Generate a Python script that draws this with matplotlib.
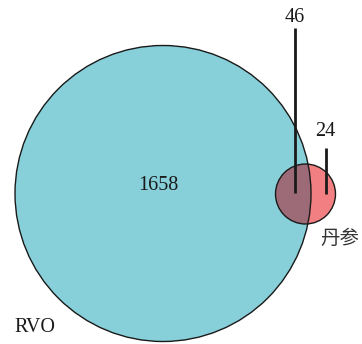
import numpy as np
import matplotlib
matplotlib.use("Agg")
import matplotlib.pyplot as plt
from matplotlib.patches import Circle

# Set names and region counts
set_names = ["RVO", "丹参"]
only_counts = [1658, 24]
shared_count = 46

# Circle areas proportional to set sizes
totals = np.array([only_counts[0] + shared_count, only_counts[1] + shared_count])
scale = 148.0 / np.sqrt(totals[0])
radii = scale * np.sqrt(totals)
centers = [(163.0, 193.5), (305.5, 194.0)]

teal = "#87D0DA"
pink = "#F27F81"
mauve = "#9C6B77"

fig = plt.figure(figsize=(3.62, 3.44), dpi=100)
ax = fig.add_axes([0, 0, 1, 1])
ax.set_xlim(0, 362)
ax.set_ylim(344, 0)
ax.set_aspect("equal")
ax.axis("off")

big = Circle(centers[0], radii[0], facecolor=teal, edgecolor="none", zorder=1)
small = Circle(centers[1], radii[1], facecolor=pink, edgecolor="none", zorder=2)
ax.add_patch(big)
ax.add_patch(small)

# Shared region: the small circle clipped to the large one
overlap = Circle(centers[1], radii[1], facecolor=mauve, edgecolor="none", zorder=3)
ax.add_patch(overlap)
overlap.set_clip_path(big)

for c, r in zip(centers, radii):
    ax.add_patch(Circle(c, r, facecolor="none", edgecolor="#1a1a1a", lw=1.0, zorder=4))

num_font = dict(family="Liberation Serif", fontsize=14.5, color="#1a1a1a")
cjk_font = dict(family=["Noto Sans CJK SC", "DejaVu Sans"], fontsize=14, color="#333333")

# Count labels
ax.text(158, 185, f"{only_counts[0]}", ha="center", va="center", zorder=5, **num_font)
ax.plot([295, 295], [28, 193], color="#1a1a1a", lw=2, zorder=5, solid_capstyle="butt")
ax.text(295, 17, f"{shared_count}", ha="center", va="center", zorder=5, **num_font)
ax.plot([326, 326], [148, 194], color="#1a1a1a", lw=2, zorder=5, solid_capstyle="butt")
ax.text(325.5, 131.5, f"{only_counts[1]}", ha="center", va="center", zorder=5, **num_font)

# Set names
ax.text(35, 327.5, set_names[0], ha="center", va="center", zorder=5, **num_font)
ax.text(340, 238, set_names[1], ha="center", va="center", zorder=5, **cjk_font)

fig.savefig("out.png", dpi=100)
